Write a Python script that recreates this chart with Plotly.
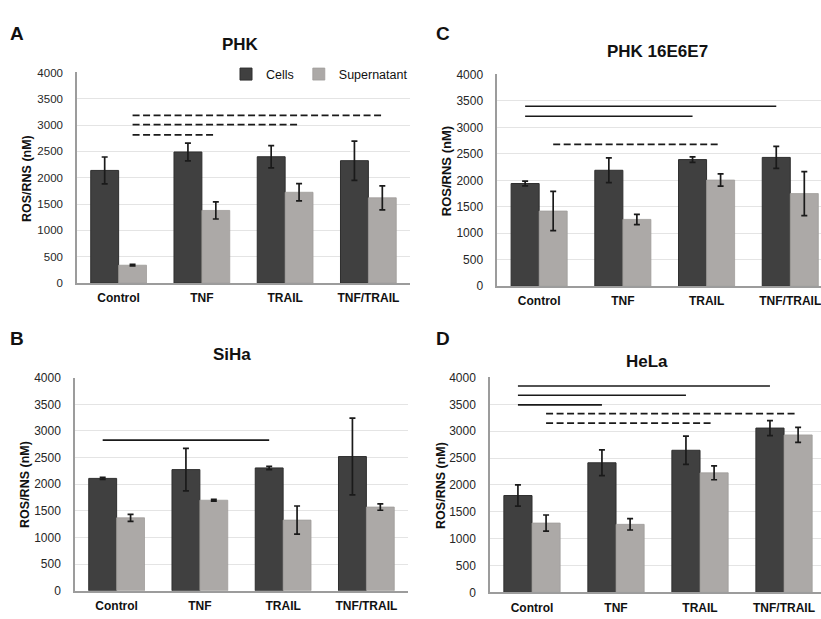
import plotly.graph_objects as go

# ---------------- data ----------------
categories = ["Control", "TNF", "TRAIL", "TNF/TRAIL"]
series_names = ["Cells", "Supernatant"]
y_tick_values = [0, 500, 1000, 1500, 2000, 2500, 3000, 3500, 4000]
y_title = "ROS/RNS (nM)"

# Panel A - PHK
A_title = "PHK"
A_cells = [2140, 2490, 2400, 2325]
A_cells_err = [255, 170, 210, 373]
A_sup = [340, 1380, 1725, 1620]
A_sup_err = [15, 163, 163, 228]
A_sig_from = ["Control", "Control", "Control"]
A_sig_to = ["TNF/TRAIL", "TRAIL", "TNF"]
A_sig_series = ["Supernatant", "Supernatant", "Supernatant"]
A_sig_level = [3185, 3010, 2815]
A_sig_dashed = [True, True, True]

# Panel C - PHK 16E6E7
C_title = "PHK 16E6E7"
C_cells = [1940, 2190, 2392, 2433]
C_cells_err = [45, 235, 52, 207]
C_sup = [1420, 1262, 2005, 1750]
C_sup_err = [370, 97, 116, 415]
C_sig_from = ["Control", "Control", "Control"]
C_sig_to = ["TNF/TRAIL", "TRAIL", "TRAIL"]
C_sig_series = ["Cells", "Cells", "Supernatant"]
C_sig_level = [3400, 3210, 2678]
C_sig_dashed = [False, False, True]

# Panel B - SiHa
B_title = "SiHa"
B_cells = [2110, 2275, 2306, 2520]
B_cells_err = [20, 400, 30, 720]
B_sup = [1370, 1700, 1327, 1572]
B_sup_err = [65, 15, 265, 60]
B_sig_from = ["Control"]
B_sig_to = ["TRAIL"]
B_sig_series = ["Cells"]
B_sig_level = [2828]
B_sig_dashed = [False]

# Panel D - HeLa
D_title = "HeLa"
D_cells = [1803, 2412, 2645, 3058]
D_cells_err = [197, 240, 264, 140]
D_sup = [1291, 1267, 2225, 2930]
D_sup_err = [150, 105, 128, 140]
D_sig_from = ["Control", "Control", "Control", "Control", "Control"]
D_sig_to = ["TNF/TRAIL", "TRAIL", "TNF", "TNF/TRAIL", "TRAIL"]
D_sig_series = ["Cells", "Cells", "Cells", "Supernatant", "Supernatant"]
D_sig_level = [3840, 3668, 3490, 3328, 3150]
D_sig_dashed = [False, False, False, True, True]

# ---------------- style / layout ----------------
W, H = 821, 619
FONT = "Arial, Liberation Sans, Helvetica, sans-serif"
CELL_COLOR = "#404040"
CELL_EDGE = "#2e2e2e"
SUP_COLOR = "#aca9a7"
SUP_EDGE = "#a09d9b"
ERR_COLOR = "#1a1a1a"
GRID_COLOR = "#e4e4e4"
AXIS_COLOR = "#9c9c9c"
BARGAP = 0.33
OFFSET = (1 - BARGAP) / 4.0


def px_x(v):
    return v / W


def px_y(v):
    return 1 - v / H


panels = [
    dict(name="A", title=A_title, cells=A_cells, cells_err=A_cells_err, sup=A_sup, sup_err=A_sup_err,
         sf=A_sig_from, st=A_sig_to, ss=A_sig_series, sl=A_sig_level, sd=A_sig_dashed,
         px=(77, 410, 67, 282.5), xmax=3.5, letter=(17, 27), tpos=(240, 38), ypos=(27, 176), tick=11.5, ytfs=12.5),
    dict(name="C", title=C_title, cells=C_cells, cells_err=C_cells_err, sup=C_sup, sup_err=C_sup_err,
         sf=C_sig_from, st=C_sig_to, ss=C_sig_series, sl=C_sig_level, sd=C_sig_dashed,
         px=(497.3, 821, 69, 285.7), xmax=3.367, letter=(443, 27), tpos=(657, 46), ypos=(446, 168), tick=12, ytfs=13),
    dict(name="B", title=B_title, cells=B_cells, cells_err=B_cells_err, sup=B_sup, sup_err=B_sup_err,
         sf=B_sig_from, st=B_sig_to, ss=B_sig_series, sl=B_sig_level, sd=B_sig_dashed,
         px=(75, 408, 379.3, 597.3), xmax=3.5, letter=(17, 339), tpos=(232, 356), ypos=(25, 489), tick=12, ytfs=12.5),
    dict(name="D", title=D_title, cells=D_cells, cells_err=D_cells_err, sup=D_sup, sup_err=D_sup_err,
         sf=D_sig_from, st=D_sig_to, ss=D_sig_series, sl=D_sig_level, sd=D_sig_dashed,
         px=(490, 821, 379, 599), xmax=3.44, letter=(443, 339), tpos=(647, 363), ypos=(441, 490), tick=12, ytfs=12.5),
]

fig = go.Figure()
annotations = []
layout_axes = {}
xpos = list(range(len(categories)))

for i, p in enumerate(panels):
    k = "" if i == 0 else str(i + 1)
    xa, ya = "x" + k, "y" + k
    left, right, top, bottom = p["px"]

    fig.add_trace(go.Bar(
        x=xpos, y=p["cells"], name=series_names[0], marker_color=CELL_COLOR,
        marker_line=dict(color=CELL_EDGE, width=1), xaxis=xa, yaxis=ya,
        showlegend=(i == 0), legendgroup="cells",
        error_y=dict(type="data", array=p["cells_err"], color=ERR_COLOR, thickness=1.7, width=3)))
    fig.add_trace(go.Bar(
        x=xpos, y=p["sup"], name=series_names[1], marker_color=SUP_COLOR,
        marker_line=dict(color=SUP_EDGE, width=0.8), xaxis=xa, yaxis=ya,
        showlegend=(i == 0), legendgroup="sup",
        error_y=dict(type="data", array=p["sup_err"], color=ERR_COLOR, thickness=1.7, width=3)))

    for f, t, s, lvl, dashed in zip(p["sf"], p["st"], p["ss"], p["sl"], p["sd"]):
        off = -OFFSET if s == "Cells" else OFFSET
        x0 = categories.index(f) + off
        x1 = categories.index(t) + off
        fig.add_trace(go.Scatter(
            x=[x0, x1], y=[lvl, lvl], mode="lines", xaxis=xa, yaxis=ya, showlegend=False,
            hoverinfo="skip",
            line=dict(color="#1a1a1a", width=1.8 if dashed else 1.6, dash="7px,3.5px" if dashed else "solid")))

    layout_axes["xaxis" + k] = dict(
        domain=[max(0, px_x(left)), min(1, px_x(right))], anchor=ya, range=[-0.5, p["xmax"]],
        tickmode="array", tickvals=xpos, ticktext=categories,
        showgrid=False, zeroline=False, showline=True, linecolor=AXIS_COLOR, linewidth=1.5,
        ticks="", ticklabelstandoff=3, ticklabeloverflow="allow",
        tickfont=dict(family=FONT, size=12, color="#111111", weight="bold"), fixedrange=True)
    layout_axes["yaxis" + k] = dict(
        domain=[px_y(bottom), px_y(top)], anchor=xa, range=[0, 4000],
        tickmode="array", tickvals=y_tick_values, ticktext=[str(v) for v in y_tick_values],
        showgrid=True, gridcolor=GRID_COLOR, gridwidth=1, zeroline=False,
        showline=True, linecolor=AXIS_COLOR, linewidth=1.5, ticks="", ticklabelstandoff=10,
        tickfont=dict(family=FONT, size=p["tick"], color="#262626"), fixedrange=True)

    annotations.append(dict(text=p["name"], x=px_x(p["letter"][0]), y=px_y(p["letter"][1]),
                            xref="paper", yref="paper", showarrow=False, xanchor="center", yanchor="middle",
                            font=dict(family=FONT, size=19, color="#111111", weight="bold")))
    annotations.append(dict(text=p["title"], x=px_x(p["tpos"][0]), y=px_y(p["tpos"][1]),
                            xref="paper", yref="paper", showarrow=False, xanchor="center", yanchor="middle",
                            font=dict(family=FONT, size=17, color="#111111", weight="bold")))
    annotations.append(dict(text=y_title, x=px_x(p["ypos"][0]), y=px_y(p["ypos"][1]), textangle=-90,
                            xref="paper", yref="paper", showarrow=False, xanchor="center", yanchor="middle",
                            font=dict(family=FONT, size=p["ytfs"], color="#111111", weight="bold")))

fig.update_layout(
    width=W, height=H, autosize=False,
    margin=dict(l=0, r=0, t=0, b=0),
    paper_bgcolor="white", plot_bgcolor="white",
    barmode="group", bargap=BARGAP, bargroupgap=0,
    font=dict(family=FONT, color="#222222"),
    showlegend=True,
    legend=dict(orientation="h", x=px_x(413), xanchor="right", y=px_y(69), yanchor="middle",
                bgcolor="white", font=dict(family=FONT, size=12.5, color="#111111"),
                itemwidth=30, tracegroupgap=0),
    annotations=annotations,
    **layout_axes,
)

fig.write_html(
    "out.html",
    config={"displayModeBar": False, "staticPlot": False},
    post_script="document.body.style.margin='0';document.body.style.overflow='hidden';",
)
